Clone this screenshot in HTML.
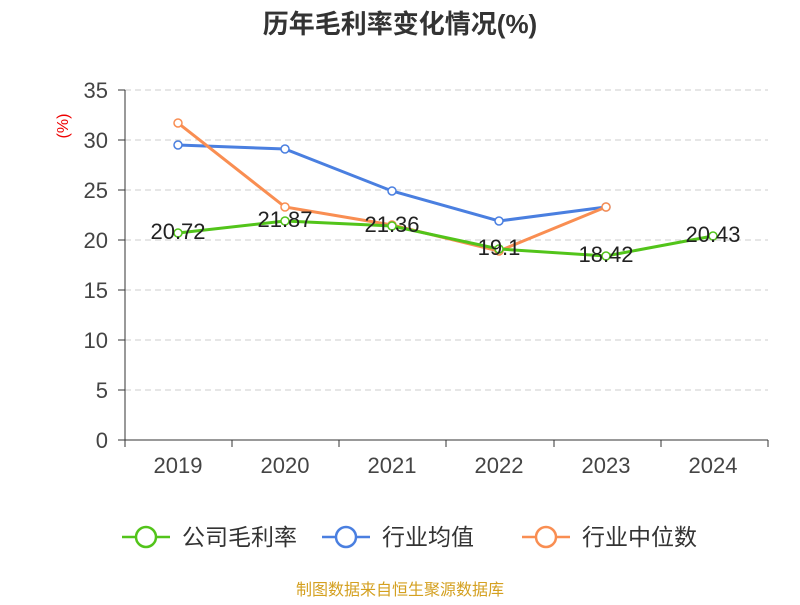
<!DOCTYPE html>
<html><head><meta charset="utf-8"><style>
body{margin:0;background:#fff;}
text{font-family:"Liberation Sans","Noto Sans CJK SC",sans-serif;}
</style></head><body>
<svg width="800" height="600" xmlns="http://www.w3.org/2000/svg">
<text x="400" y="33" text-anchor="middle" font-size="26" font-weight="bold" fill="#333">历年毛利率变化情况(%)</text>
<text x="68" y="126" font-size="16" fill="#e00" text-anchor="middle" transform="rotate(-90 68 126)">(%)</text>
<g stroke="#ccc" stroke-dasharray="6,4" stroke-width="1">
<line x1="125" y1="90" x2="768" y2="90"/><line x1="125" y1="140" x2="768" y2="140"/>
<line x1="125" y1="190" x2="768" y2="190"/><line x1="125" y1="240" x2="768" y2="240"/>
<line x1="125" y1="290" x2="768" y2="290"/><line x1="125" y1="340" x2="768" y2="340"/>
<line x1="125" y1="390" x2="768" y2="390"/>
</g>
<g stroke="#333" stroke-width="1">
<line x1="125" y1="90" x2="125" y2="440"/><line x1="125" y1="440" x2="768" y2="440"/>
<line x1="118" y1="90" x2="125" y2="90"/><line x1="118" y1="140" x2="125" y2="140"/><line x1="118" y1="190" x2="125" y2="190"/><line x1="118" y1="240" x2="125" y2="240"/><line x1="118" y1="290" x2="125" y2="290"/><line x1="118" y1="340" x2="125" y2="340"/><line x1="118" y1="390" x2="125" y2="390"/><line x1="118" y1="440" x2="125" y2="440"/>
<line x1="125" y1="440" x2="125" y2="447"/><line x1="232" y1="440" x2="232" y2="447"/><line x1="339" y1="440" x2="339" y2="447"/><line x1="446" y1="440" x2="446" y2="447"/><line x1="554" y1="440" x2="554" y2="447"/><line x1="661" y1="440" x2="661" y2="447"/><line x1="768" y1="440" x2="768" y2="447"/>
</g>
<g font-size="22" fill="#444" text-anchor="end">
<text x="108" y="98">35</text><text x="108" y="148">30</text><text x="108" y="198">25</text><text x="108" y="248">20</text><text x="108" y="298">15</text><text x="108" y="348">10</text><text x="108" y="398">5</text><text x="108" y="448">0</text>
</g>
<g font-size="22" fill="#444" text-anchor="middle">
<text x="178" y="473">2019</text><text x="285" y="473">2020</text><text x="392" y="473">2021</text><text x="499" y="473">2022</text><text x="606" y="473">2023</text><text x="713" y="473">2024</text>
</g>
<polyline fill="none" stroke="#4a7fe0" stroke-width="3" points="178,145 285,149 392,191 499,221 606,207"/>
<polyline fill="none" stroke="#f98e52" stroke-width="3" points="178,123 285,207 392,225 499,251 606,207"/>
<polyline fill="none" stroke="#52c41a" stroke-width="3" points="178,233 285,221 392,226 499,249 606,256 713,236"/>
<g fill="#fff" stroke="#4a7fe0" stroke-width="1.5"><circle cx="178" cy="145" r="4"/><circle cx="285" cy="149" r="4"/><circle cx="392" cy="191" r="4"/><circle cx="499" cy="221" r="4"/><circle cx="606" cy="207" r="4"/></g>
<g fill="#fff" stroke="#f98e52" stroke-width="1.5"><circle cx="178" cy="123" r="4"/><circle cx="285" cy="207" r="4"/><circle cx="392" cy="225" r="4"/><circle cx="499" cy="251" r="4"/><circle cx="606" cy="207" r="4"/></g>
<g fill="#fff" stroke="#52c41a" stroke-width="1.5"><circle cx="178" cy="233" r="4"/><circle cx="285" cy="221" r="4"/><circle cx="392" cy="226" r="4"/><circle cx="499" cy="249" r="4"/><circle cx="606" cy="256" r="4"/><circle cx="713" cy="236" r="4"/></g>
<g font-size="22" fill="#222" text-anchor="middle">
<text x="178" y="239">20.72</text><text x="285" y="227">21.87</text><text x="392" y="232">21.36</text><text x="499" y="255">19.1</text><text x="606" y="262">18.42</text><text x="713" y="242">20.43</text>
</g>
<g stroke-width="2.5" fill="#fff">
<line x1="122" y1="537" x2="170" y2="537" stroke="#52c41a"/><circle cx="146" cy="537" r="10" stroke="#52c41a"/>
<line x1="322" y1="537" x2="370" y2="537" stroke="#4a7fe0"/><circle cx="346" cy="537" r="10" stroke="#4a7fe0"/>
<line x1="522" y1="537" x2="570" y2="537" stroke="#f98e52"/><circle cx="546" cy="537" r="10" stroke="#f98e52"/>
</g>
<g font-size="23" fill="#333">
<text x="182" y="545">公司毛利率</text><text x="382" y="545">行业均值</text><text x="582" y="545">行业中位数</text>
</g>
<text x="400" y="595" text-anchor="middle" font-size="16" fill="#d4a020">制图数据来自恒生聚源数据库</text>
</svg>
</body></html>
